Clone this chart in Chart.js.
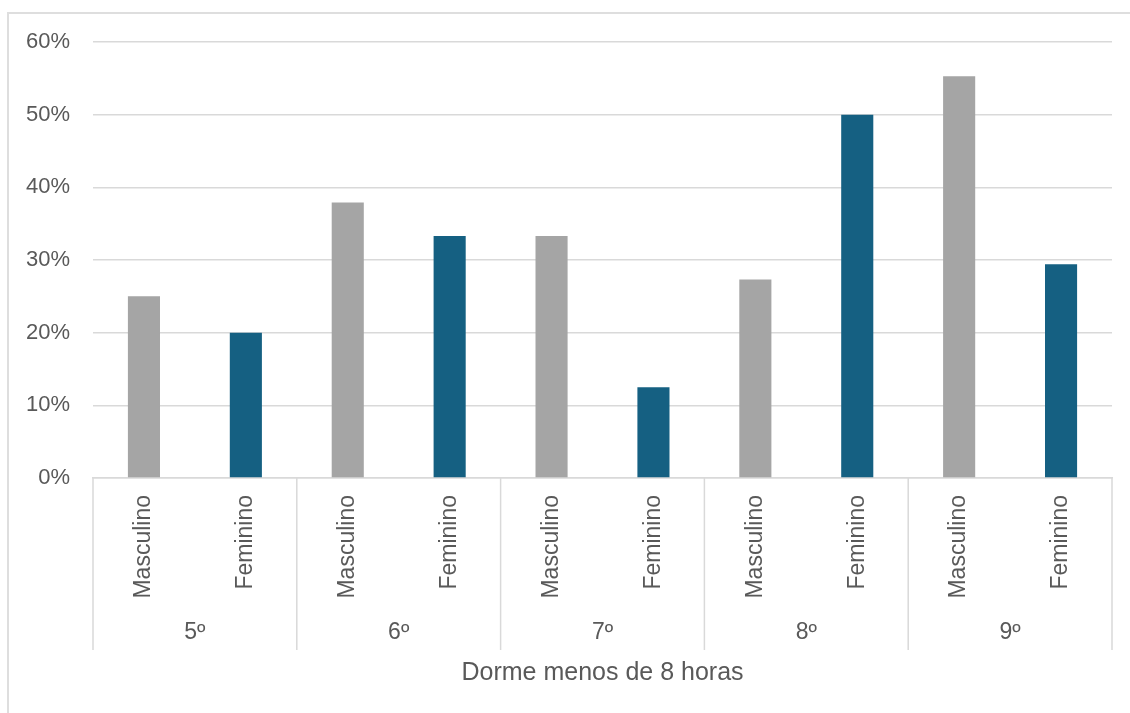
<!DOCTYPE html>
<html lang="pt">
<head>
<meta charset="utf-8">
<title>Dorme menos de 8 horas</title>
<script src="https://cdn.jsdelivr.net/npm/chart.js@4"></script>
<style>
  html, body { margin: 0; padding: 0; background: #fff; overflow: hidden; }
  #frame {
    position: absolute; left: 7px; top: 12px; width: 1200px; height: 800px;
    border-left: 2px solid #dedede; border-top: 2px solid #dedede;
  }
  #chart { position: absolute; left: 0; top: 0; }
</style>
</head>
<body>
<div id="frame"></div>
<canvas id="chart" width="1130" height="713"></canvas>
<script>
// Ano escolar e sexo
const grades = ['5º', '6º', '7º', '8º', '9º'];
const sexes = ['Masculino', 'Feminino'];
// Percentagem que dorme menos de 8 horas, por ano (M, F)
const masculino = [25.0, 37.9, 33.3, 27.3, 55.3];
const feminino = [20.0, 33.3, 12.5, 50.0, 29.4];
const yTicks = [0, 10, 20, 30, 40, 50, 60];
const axisTitle = 'Dorme menos de 8 horas';

const GRAY = '#a5a5a5';
const BLUE = '#156082';
const TEXT = '#595959';
const LINE = '#d9d9d9';
const FONT = "'Liberation Sans', Arial, sans-serif";

// One bar per grade/sex pair, in order M, F for each grade
const labels = [];
const values = [];
const colors = [];
grades.forEach((g, i) => {
  labels.push(sexes[0], sexes[1]);
  values.push(masculino[i], feminino[i]);
  colors.push(GRAY, BLUE);
});

// Second label row (grades), separators and axis title under the bars
const groupAxis = {
  id: 'groupAxis',
  afterDraw(chart) {
    const { ctx, chartArea } = chart;
    const x = chart.scales.x;
    const half = (x.getPixelForValue(1) - x.getPixelForValue(0)) / 2;
    const top = chartArea.bottom;
    ctx.save();
    ctx.strokeStyle = LINE;
    ctx.lineWidth = 1.5;
    ctx.fillStyle = TEXT;
    ctx.font = '23px ' + FONT;
    ctx.textAlign = 'center';
    ctx.textBaseline = 'middle';
    grades.forEach((g, i) => {
      const left = x.getPixelForValue(2 * i) - half;
      const right = x.getPixelForValue(2 * i + 1) + half;
      ctx.beginPath();
      ctx.moveTo(left, top);
      ctx.lineTo(left, top + 172);
      if (i === grades.length - 1) {
        ctx.moveTo(right, top);
        ctx.lineTo(right, top + 172);
      }
      ctx.stroke();
      ctx.fillText(g, (left + right) / 2, top + 155);
    });
    ctx.font = '25px ' + FONT;
    ctx.fillText(axisTitle, (chartArea.left + chartArea.right) / 2, top + 195);
    ctx.restore();
  }
};

new Chart(document.getElementById('chart').getContext('2d'), {
  type: 'bar',
  data: {
    labels: labels,
    datasets: [{
      data: values,
      backgroundColor: colors,
      borderWidth: 0,
      categoryPercentage: 1,
      barPercentage: 0.315
    }]
  },
  options: {
    responsive: false,
    animation: false,
    layout: { padding: { top: 42, right: 18, bottom: 0, left: 0 } },
    plugins: {
      legend: { display: false },
      tooltip: { enabled: false }
    },
    scales: {
      x: {
        grid: { display: false },
        border: { display: true, color: LINE, width: 1.5 },
        ticks: {
          autoSkip: false,
          minRotation: 90,
          maxRotation: 90,
          padding: 9,
          color: TEXT,
          font: { family: FONT, size: 23 }
        },
        afterFit(scale) { scale.height = 235; }
      },
      y: {
        min: yTicks[0],
        max: yTicks[yTicks.length - 1],
        afterBuildTicks(scale) { scale.ticks = yTicks.map(v => ({ value: v })); },
        grid: { color: LINE, lineWidth: 1.5, drawTicks: false },
        border: { display: false },
        ticks: {
          padding: 23,
          color: TEXT,
          font: { family: FONT, size: 22 },
          callback: v => v + '%'
        },
        afterFit(scale) { scale.width = 93; }
      }
    }
  },
  plugins: [groupAxis]
});
</script>
</body>
</html>
